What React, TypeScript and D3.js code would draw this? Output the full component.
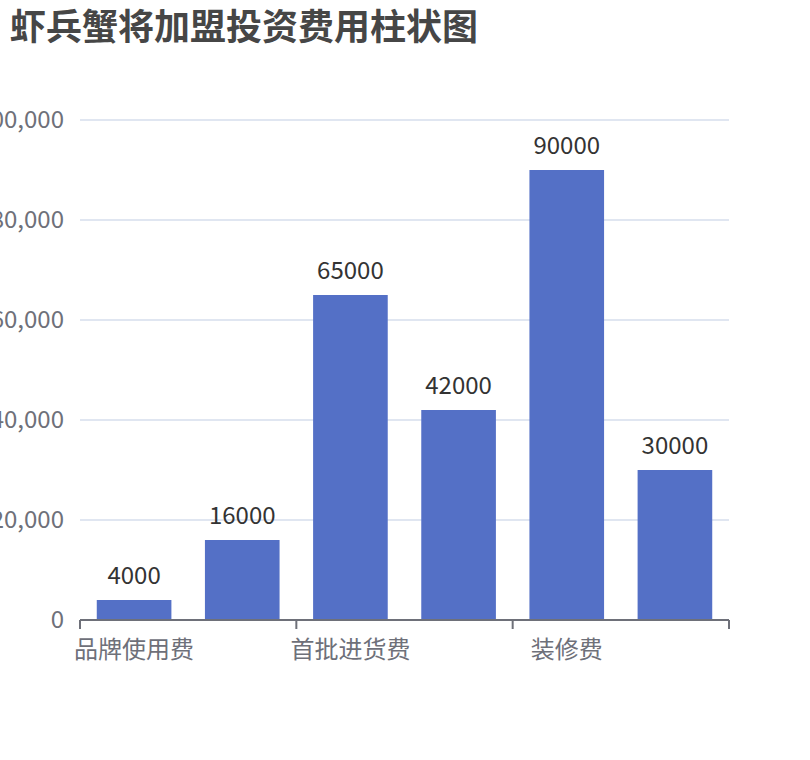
import React, { useEffect, useRef } from "react";
import * as d3 from "d3";

const categories = ["品牌使用费", "加盟费", "首批进货费", "设备费", "装修费", "流动资金"];
const values = [4000, 16000, 65000, 42000, 90000, 30000];
const yTicks = [0, 20000, 40000, 60000, 80000, 100000];
const title = "虾兵蟹将加盟投资费用柱状图";

const W = 810;
const H = 760;
const FONT = "'Noto Sans CJK SC', 'Noto Sans', sans-serif";

export default function App() {
  const ref = useRef<SVGSVGElement>(null);
  useEffect(() => {
    const svg = d3.select(ref.current);
    svg.selectAll("*").remove();
    const left = 80, right = 729, top = 120, bottom = 620;
    const x = d3.scaleBand().domain(categories).range([left, right]).paddingInner(0).paddingOuter(0);
    const y = d3.scaleLinear().domain([0, 100000]).range([bottom, top]);
    const fmt = d3.format(",");

    svg.append("text").attr("x", 10).attr("y", 40).attr("font-family", FONT)
      .attr("font-size", 36).attr("font-weight", "bold").attr("fill", "#464646").text(title);

    const g = svg.append("g");
    g.selectAll("line.grid").data(yTicks.filter(t => t > 0)).enter().append("line")
      .attr("x1", left).attr("x2", right).attr("y1", d => y(d)).attr("y2", d => y(d))
      .attr("stroke", "#E0E6F1").attr("stroke-width", 2);

    g.selectAll("text.ylab").data(yTicks).enter().append("text")
      .attr("x", left - 16).attr("y", d => y(d)).attr("dy", "0.35em")
      .attr("text-anchor", "end").attr("font-family", FONT).attr("font-size", 24)
      .attr("fill", "#6E7079").text(d => fmt(d));

    const bw = x.bandwidth() * 0.69;
    g.selectAll("rect.bar").data(values).enter().append("rect")
      .attr("x", (d, i) => x(categories[i])! + (x.bandwidth() - bw) / 2)
      .attr("width", bw)
      .attr("y", d => y(d)).attr("height", d => bottom - y(d))
      .attr("fill", "#5470C6");

    g.selectAll("text.val").data(values).enter().append("text")
      .attr("x", (d, i) => x(categories[i])! + x.bandwidth() / 2)
      .attr("y", d => y(d) - 16)
      .attr("text-anchor", "middle").attr("font-family", FONT).attr("font-size", 24)
      .attr("fill", "#333").text(d => String(d));

    g.append("line").attr("x1", left).attr("x2", right).attr("y1", bottom).attr("y2", bottom)
      .attr("stroke", "#6E7079").attr("stroke-width", 2);

    const tickPos = categories.map((c, i) => i).filter(i => i % 2 === 0).map(i => x(categories[i])!);
    tickPos.push(right);
    g.selectAll("line.tick").data(tickPos).enter().append("line")
      .attr("x1", d => d).attr("x2", d => d).attr("y1", bottom).attr("y2", bottom + 9)
      .attr("stroke", "#6E7079").attr("stroke-width", 2);

    g.selectAll("text.xlab").data(categories.filter((c, i) => i % 2 === 0)).enter().append("text")
      .attr("x", d => x(d)! + x.bandwidth() / 2).attr("y", bottom + 16)
      .attr("dominant-baseline", "hanging")
      .attr("text-anchor", "middle").attr("font-family", FONT).attr("font-size", 24)
      .attr("fill", "#6E7079").text(d => d);
  }, []);
  return (
    <svg ref={ref} width={W} height={H} style={{ position: "absolute", left: 0, top: 0, background: "#fff" }} />
  );
}
